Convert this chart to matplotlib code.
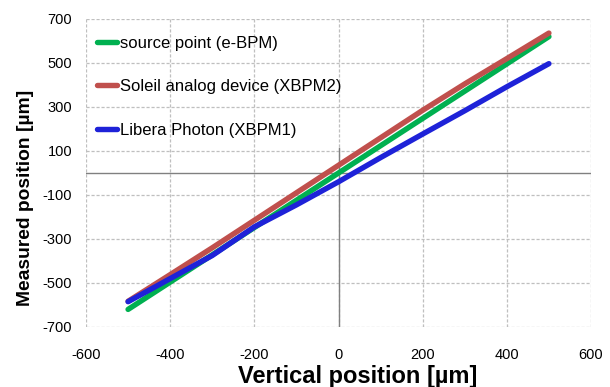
import matplotlib
matplotlib.use("Agg")
import matplotlib.pyplot as plt

plt.rcParams['font.family'] = ['Liberation Sans', 'DejaVu Sans']
plt.rcParams['axes.unicode_minus'] = False

x_vals = [-500, -400, -300, -200, -100, 0, 100, 200, 300, 400, 500]
source_point = [-620, -496, -372, -248, -124, 0, 124, 248, 372, 496, 620]
soleil_xbpm2 = [-583, -462, -340, -215, -90, 35, 160, 285, 405, 520, 636]
libera_xbpm1 = [-585, -480, -375, -245, -145, -40, 70, 177, 283, 392, 497]

labels = ["source point (e-BPM)", "Soleil analog device (XBPM2)", "Libera Photon (XBPM1)"]
colors = ["#00B050", "#C0504D", "#1E22D8"]

x_ticks = [-600, -400, -200, 0, 200, 400, 600]
y_ticks = [-700, -500, -300, -100, 100, 300, 500, 700]

W, H = 610, 387
fig = plt.figure(figsize=(W / 100, H / 100), dpi=100)
ax = fig.add_axes([86 / W, 1 - 327 / H, (591 - 86) / W, (327 - 19) / H])

for series, lab, col in zip([source_point, soleil_xbpm2, libera_xbpm1], labels, colors):
    ax.plot(x_vals, series, color=col, lw=3.9, label=lab, solid_capstyle='round', zorder=3)

ax.set_xlim(-600, 600)
ax.set_ylim(-700, 700)
ax.set_xticks(x_ticks)
ax.set_yticks(y_ticks)
ax.grid(True, color='#BFBFBF', linestyle=(0, (2.5, 1.5)), linewidth=0.9)
for s in ax.spines.values():
    s.set_visible(False)
ax.tick_params(length=0, labelsize=10.5, colors='black')
ax.tick_params(axis='x', pad=15)
ax.tick_params(axis='y', pad=10)

ax.axhline(0, color='#808080', lw=1.0, zorder=2)
ax.plot([0, 0], [-700, 115], color='#808080', lw=1.0, zorder=2)

fig.text(358 / W, 1 - 376 / H, "Vertical position [µm]", fontsize=17, fontweight='bold',
         ha='center', va='center')
fig.text(26 / W, 1 - 197.5 / H, "Measured position [µm]", fontsize=13.9, fontweight='bold',
         ha='center', va='center', rotation=90)

leg = ax.legend(loc='upper left', frameon=False, fontsize=12, handlelength=1.2,
                handletextpad=0.2, labelspacing=1.7, borderpad=0, borderaxespad=0,
                bbox_to_anchor=(97 / W, 1 - 36 / H), bbox_transform=fig.transFigure)

fig.savefig("out.png", dpi=100)
